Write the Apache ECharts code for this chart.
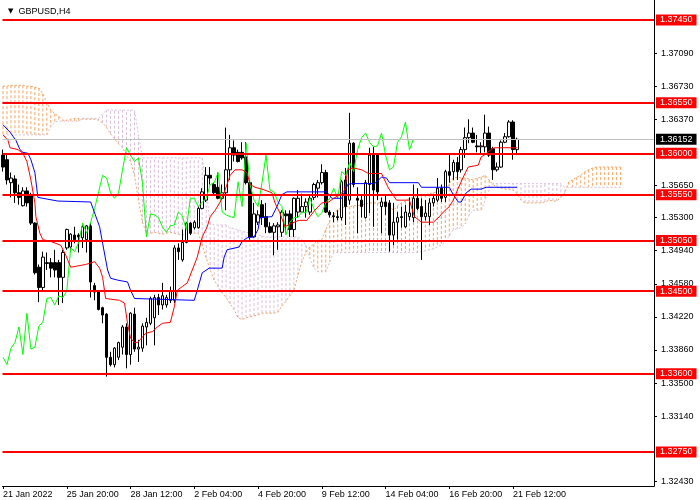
<!DOCTYPE html>
<html><head><meta charset="utf-8">
<script src="https://cdn.jsdelivr.net/npm/echarts@6/dist/echarts.min.js"></script>
<style>html,body{margin:0;padding:0;background:#fff}#c{width:700px;height:500px}</style>
</head><body><div id="c"></div>
<script>
const symbolName = 'GBPUSD,H4';
const xTickLabels = ['21 Jan 2022','25 Jan 20:00','28 Jan 12:00','2 Feb 04:00','4 Feb 20:00','9 Feb 12:00','14 Feb 04:00','16 Feb 20:00','21 Feb 12:00'];
const xTickIndex = [0,16,32,48,64,80,96,112,128];
const yTickValues = [1.32430,1.33140,1.33500,1.33860,1.34220,1.34580,1.34940,1.35300,1.35650,1.36370,1.36730,1.37090];
const levels = [1.37450,1.36550,1.36000,1.35550,1.35050,1.34500,1.33600,1.32750];
const lastPrice = 1.36152;

// H4 candles: [open, close, low, high]
const candles = [
[1.3598,1.3585,1.3580,1.3604],[1.3593,1.3571,1.3566,1.3600],[1.3568,1.3573,1.3552,1.3579],[1.3572,1.3557,1.3546,1.3576],
[1.3557,1.3552,1.3544,1.3566],[1.3543,1.3559,1.3542,1.3563],[1.3559,1.3546,1.3542,1.3563],[1.3555,1.3524,1.3522,1.3557],
[1.3524,1.3470,1.3468,1.3525],[1.3476,1.3454,1.3438,1.3479],[1.3454,1.3487,1.3451,1.3493],[1.3480,1.3481,1.3473,1.3492],
[1.3481,1.3475,1.3465,1.3486],[1.3481,1.3473,1.3465,1.3495],[1.3481,1.3465,1.3435,1.3484],[1.3465,1.3492,1.3437,1.3495],
[1.3497,1.3517,1.3495,1.3518],[1.3498,1.3512,1.3493,1.3513],[1.3511,1.3506,1.3502,1.3520],[1.3511,1.3509,1.3492,1.3513],
[1.3508,1.3520,1.3497,1.3522],[1.3506,1.3521,1.3492,1.3522],[1.3521,1.3460,1.3443,1.3524],[1.3456,1.3449,1.3440,1.3459],
[1.3449,1.3430,1.3429,1.3451],[1.3432,1.3424,1.3415,1.3433],[1.3425,1.3378,1.3357,1.3426],[1.3378,1.3370,1.3368,1.3384],
[1.3370,1.3388,1.3367,1.3389],[1.3378,1.3394,1.3375,1.3395],[1.3389,1.3411,1.3381,1.3413],[1.3411,1.3381,1.3366,1.3415],
[1.3381,1.3426,1.3370,1.3427],[1.3425,1.3387,1.3384,1.3432],[1.3387,1.3389,1.3373,1.3397],[1.3388,1.3412,1.3384,1.3415],
[1.3411,1.3416,1.3391,1.3421],[1.3415,1.3442,1.3413,1.3444],[1.3421,1.3443,1.3391,1.3446],[1.3443,1.3435,1.3424,1.3447],
[1.3435,1.3445,1.3430,1.3459],[1.3435,1.3443,1.3432,1.3446],[1.3440,1.3450,1.3437,1.3455],[1.3440,1.3497,1.3437,1.3500],
[1.3497,1.3493,1.3484,1.3502],[1.3484,1.3503,1.3482,1.3517],[1.3503,1.3524,1.3502,1.3525],[1.3524,1.3513,1.3511,1.3525],
[1.3519,1.3525,1.3517,1.3527],[1.3519,1.3540,1.3518,1.3542],[1.3540,1.3558,1.3539,1.3562],[1.3549,1.3576,1.3547,1.3585],
[1.3576,1.3573,1.3566,1.3585],[1.3566,1.3557,1.3555,1.3568],[1.3563,1.3551,1.3550,1.3579],[1.3551,1.3557,1.3549,1.3566],
[1.3557,1.3582,1.3538,1.3628],[1.3582,1.3606,1.3571,1.3620],[1.3606,1.3598,1.3591,1.3614],[1.3601,1.3591,1.3590,1.3604],
[1.3601,1.3595,1.3593,1.3612],[1.3596,1.3568,1.3566,1.3612],[1.3568,1.3509,1.3506,1.3571],[1.3509,1.3534,1.3508,1.3546],
[1.3525,1.3533,1.3522,1.3538],[1.3544,1.3530,1.3522,1.3549],[1.3531,1.3520,1.3513,1.3546],[1.3520,1.3514,1.3513,1.3525],
[1.3514,1.3521,1.3489,1.3524],[1.3520,1.3522,1.3495,1.3525],[1.3514,1.3536,1.3509,1.3538],[1.3534,1.3532,1.3513,1.3538],
[1.3534,1.3517,1.3509,1.3538],[1.3517,1.3551,1.3509,1.3552],[1.3536,1.3551,1.3530,1.3560],[1.3536,1.3542,1.3535,1.3556],
[1.3542,1.3547,1.3530,1.3551],[1.3536,1.3551,1.3533,1.3555],[1.3552,1.3566,1.3549,1.3568],[1.3562,1.3568,1.3552,1.3571],
[1.3568,1.3579,1.3566,1.3588],[1.3579,1.3536,1.3535,1.3582],[1.3536,1.3533,1.3530,1.3538],[1.3532,1.3531,1.3525,1.3536],
[1.3531,1.3530,1.3527,1.3538],[1.3530,1.3569,1.3527,1.3571],[1.3571,1.3542,1.3522,1.3584],[1.3549,1.3611,1.3544,1.3644],
[1.3611,1.3566,1.3563,1.3612],[1.3551,1.3549,1.3513,1.3563],[1.3549,1.3542,1.3530,1.3555],[1.3530,1.3568,1.3529,1.3571],
[1.3566,1.3598,1.3535,1.3606],[1.3598,1.3560,1.3520,1.3607],[1.3598,1.3558,1.3549,1.3600],[1.3542,1.3547,1.3513,1.3552],
[1.3547,1.3542,1.3533,1.3555],[1.3546,1.3511,1.3493,1.3549],[1.3511,1.3525,1.3500,1.3546],[1.3525,1.3530,1.3506,1.3536],
[1.3531,1.3530,1.3519,1.3542],[1.3520,1.3536,1.3519,1.3544],[1.3531,1.3535,1.3527,1.3552],[1.3530,1.3551,1.3525,1.3566],
[1.3551,1.3540,1.3538,1.3562],[1.3542,1.3531,1.3484,1.3551],[1.3531,1.3535,1.3527,1.3549],[1.3531,1.3546,1.3522,1.3551],
[1.3546,1.3551,1.3542,1.3555],[1.3549,1.3562,1.3547,1.3573],[1.3562,1.3551,1.3547,1.3566],[1.3552,1.3580,1.3547,1.3582],
[1.3580,1.3576,1.3568,1.3598],[1.3580,1.3590,1.3571,1.3593],[1.3590,1.3580,1.3571,1.3596],[1.3582,1.3604,1.3579,1.3607],
[1.3604,1.3617,1.3595,1.3628],[1.3617,1.3622,1.3611,1.3637],[1.3622,1.3612,1.3611,1.3628],[1.3608,1.3607,1.3601,1.3620],
[1.3607,1.3608,1.3600,1.3612],[1.3607,1.3622,1.3601,1.3642],[1.3622,1.3598,1.3596,1.3629],[1.3605,1.3582,1.3571,1.3607],
[1.3582,1.3585,1.3580,1.3590],[1.3585,1.3612,1.3584,1.3614],[1.3612,1.3618,1.3611,1.3622],[1.3618,1.3634,1.3617,1.3636],
[1.3634,1.3604,1.3593,1.3636],[1.3604,1.36152,1.3598,1.3617]
];

// Tenkan-sen (red) vertices: [bar, price]
const tenkan = [[0,1.3620],[1.25,1.3614],[1.75,1.3606],[3.75,1.3604],[5,1.3600],[6,1.3591],[7,1.3571],[8,1.3546],[8.25,1.3531],
[9.25,1.3513],[10,1.3506],[12,1.3504],[14.5,1.3500],[15.75,1.3489],[17,1.3476],[20.75,1.3479],[23,1.3482],[24.25,1.3475],
[25,1.3465],[25.75,1.3442],[29.25,1.3440],[30.5,1.3437],[31.25,1.3415],[32,1.3399],[33,1.3394],[33.75,1.3394],[35,1.3400],
[35.75,1.3404],[37.5,1.3406],[38.75,1.3411],[40,1.3415],[42,1.3416],[43,1.3433],[43.75,1.3451],[45,1.3455],[46.25,1.3459],
[47.5,1.3473],[48.75,1.3487],[50,1.3509],[51.25,1.3520],[52,1.3531],[53.25,1.3538],[54.5,1.3547],[55.5,1.3557],[57,1.3576],
[58.25,1.3582],[60,1.3582],[61.25,1.3579],[62,1.3566],[63.25,1.3563],[65,1.3561],[66.25,1.3559],[67.5,1.3557],[68.25,1.3546],
[69.5,1.3535],[70.75,1.3520],[72.5,1.3524],[74.25,1.3527],[76.25,1.3527],[78.25,1.3538],[80,1.3546],[81.75,1.3547],[83,1.3551],
[84.5,1.3555],[85.75,1.3560],[86.5,1.3582],[88,1.3584],[90,1.3582],[91.75,1.3578],[95,1.3578],[95.75,1.3571],[96.75,1.3562],
[98.75,1.3549],[102,1.3549],[103.25,1.3531],[105,1.3525],[108,1.3525],[109.5,1.3531],[110.5,1.3536],[112,1.3542],[113,1.3549],
[114.25,1.3562],[115.5,1.3574],[116.75,1.3585],[119.25,1.3587],[120,1.3596],[120.75,1.3598],[122.5,1.3604],[123.25,1.3606],[129,1.3606]];

// Kijun-sen (blue) vertices: [bar, price]
const kijun = [[0,1.3631],[1.75,1.3623],[3.25,1.3614],[4.25,1.3604],[5,1.3601],[6.25,1.3600],[7,1.3593],[8,1.3579],[8.75,1.3552],
[9.25,1.3551],[13.75,1.3548],[22,1.3547],[23,1.3535],[24.25,1.3520],[25,1.3502],[26.25,1.3473],[27,1.3464],[28.75,1.3462],
[31.25,1.3460],[32,1.3451],[33,1.3442],[48,1.3440],[48.75,1.3451],[50,1.3470],[51.75,1.3475],[55,1.3475],[55.5,1.3487],
[56.25,1.3495],[59.25,1.3498],[60,1.3504],[61.25,1.3508],[63,1.3509],[64,1.3517],[64.5,1.3530],[67.5,1.3531],[68.75,1.3542],
[70,1.3555],[71.25,1.3558],[81.25,1.3558],[82.5,1.3551],[85,1.3551],[86.5,1.3566],[87.5,1.3567],[93.25,1.3567],[95,1.3574],
[96.25,1.3573],[97,1.3568],[104.25,1.3568],[105,1.3563],[112,1.3563],[113,1.3555],[114.25,1.3547],[115,1.3547],[116.25,1.3557],
[117.5,1.3561],[120,1.3561],[121.25,1.3563],[129,1.3563]];

// Senkou Span A per bar (shifted 26 bars forward)
const spanA = [
1.3673,1.3673,1.3674,1.3674,1.3674,1.3674,1.3673,1.3673,1.3672,1.3671,
1.3665,1.3655,1.3647,1.3643,1.3640,1.3636,1.3636,1.3637,1.3638,1.3638,
1.3637,1.3637,1.3637,1.3637,1.3636,1.3633,1.3628,1.3621,1.3616,1.3610,
1.3606,1.3598,1.3591,1.3576,1.3549,1.3525,1.3513,1.3513,1.3514,1.3513,
1.3512,1.3513,1.3514,1.3513,1.3512,1.3511,1.3512,1.3513,1.3513,1.3513,
1.3500,1.3486,1.3473,1.3462,1.3455,1.3448,1.3443,1.3436,1.3430,1.3421,
1.3419,1.3421,1.3422,1.3423,1.3424,1.3426,1.3426,1.3426,1.3426,1.3427,
1.3434,1.3439,1.3445,1.3451,1.3467,1.3482,1.3492,1.3498,1.3501,1.3505,
1.3506,1.3517,1.3527,1.3533,1.3539,1.3540,1.3542,1.3542,1.3543,1.3543,
1.3544,1.3545,1.3546,1.3546,1.3546,1.3546,1.3546,1.3542,1.3538,1.3543,
1.3546,1.3548,1.3551,1.3552,1.3554,1.3554,1.3555,1.3556,1.3557,1.3558,
1.3559,1.3560,1.3567,1.3573,1.3574,1.3573,1.3573,1.3572,1.3571,1.3573,
1.3574,1.3576,1.3571,1.3566,1.3563,1.3562,1.3561,1.3561,1.3560,1.3556,
1.3549,1.3546,1.3546,1.3546,1.3546,1.3546,1.3547,1.3549,1.3548,1.3548,
1.3552,1.3557,1.3569,1.3571,1.3574,1.3576,1.3580,1.3582,1.3584,1.3585,
1.3585,1.3585,1.3585,1.3585,1.3585,1.3585];

// Senkou Span B per bar (shifted 26 bars forward)
const spanB = [
1.3620,1.3620,1.3620,1.3620,1.3620,1.3620,1.3620,1.3620,1.3620,1.3620,
1.3620,1.3620,1.3629,1.3634,1.3635,1.3635,1.3635,1.3635,1.3635,1.3635,
1.3638,1.3638,1.3638,1.3638,1.3638,1.3643,1.3647,1.3647,1.3647,1.3647,
1.3647,1.3647,1.3647,1.3647,1.3620,1.3595,1.3595,1.3595,1.3595,1.3595,
1.3595,1.3595,1.3595,1.3595,1.3595,1.3595,1.3595,1.3595,1.3595,1.3595,
1.3595,1.3560,1.3524,1.3522,1.3522,1.3522,1.3522,1.3519,1.3518,1.3517,
1.3515,1.3514,1.3513,1.3512,1.3511,1.3510,1.3509,1.3509,1.3509,1.3509,
1.3509,1.3509,1.3509,1.3509,1.3509,1.3506,1.3500,1.3486,1.3475,1.3471,
1.3471,1.3471,1.3482,1.3492,1.3492,1.3492,1.3492,1.3492,1.3492,1.3492,
1.3492,1.3492,1.3492,1.3492,1.3492,1.3492,1.3492,1.3492,1.3492,1.3492,
1.3492,1.3492,1.3492,1.3492,1.3492,1.3493,1.3494,1.3495,1.3496,1.3498,
1.3500,1.3504,1.3510,1.3517,1.3518,1.3519,1.3523,1.3533,1.3538,1.3538,
1.3538,1.3549,1.3560,1.3567,1.3567,1.3567,1.3567,1.3567,1.3567,1.3567,
1.3567,1.3567,1.3567,1.3567,1.3567,1.3567,1.3567,1.3567,1.3567,1.3567,
1.3567,1.3563,1.3563,1.3563,1.3563,1.3563,1.3563,1.3563,1.3563,1.3563,
1.3563,1.3563,1.3563,1.3563,1.3563,1.3563];

const CHIKOU_SHIFT = 26;
const FONT = 'Liberation Sans, Arial, sans-serif';
const C = {tenkan:'#ff0000', kijun:'#0000ff', chikou:'#00ff00', spanA:'#f4a460', spanB:'#d8bfd8', level:'#ff0000'};

const chart = echarts.init(document.getElementById('c'), null, {renderer:'canvas'});
const option = {
  animation:false,
  backgroundColor:'#ffffff',
  textStyle:{fontFamily:FONT, fontSize:9, color:'#000'},
  title:{
    text:'{t|▼}  ' + symbolName, left:3, top:2,
    textStyle:{fontSize:9, fontWeight:'normal', color:'#000', fontFamily:FONT,
      rich:{t:{fontSize:7, color:'#000', fontFamily:'DejaVu Sans'}}}
  },
  grid:{left:0, right:46, top:0, bottom:14},
  xAxis:{
    type:'value', min:-0.125, max:163.375,
    axisLine:{show:true, onZero:false, lineStyle:{color:'#000', width:1}},
    axisTick:{show:true, length:3, customValues:xTickIndex, lineStyle:{color:'#000'}},
    axisLabel:{customValues:xTickIndex, align:'left', margin:4, fontSize:9, color:'#000', fontFamily:FONT,
      formatter:v => { const k = xTickIndex.indexOf(v); return k >= 0 ? xTickLabels[k] : ''; }},
    splitLine:{show:false}
  },
  yAxis:{
    type:'value', position:'right', min:1.323798, max:1.376676,
    axisLine:{show:true, onZero:false, lineStyle:{color:'#000', width:1}},
    axisTick:{show:true, length:3, customValues:yTickValues, lineStyle:{color:'#000'}},
    axisLabel:{customValues:yTickValues, margin:7, fontSize:9, color:'#000', fontFamily:FONT,
      formatter:v => v.toFixed(5)},
    splitLine:{show:false}
  },
  series:[
    {
      type:'custom', name:'cloud', z:1, silent:true, clip:true,
      data: spanA.map((a,i)=>[i, a, spanB[i]]),
      encode:{x:0, y:[1,2]},
      renderItem:(params, api) => {
        const i = api.value(0), a = api.value(1), b = api.value(2);
        const p1 = api.coord([i, a]), p2 = api.coord([i, b]);
        return {type:'line', shape:{x1:p1[0], y1:p1[1], x2:p2[0], y2:p2[1]},
          style:{stroke: a >= b ? C.spanA : C.spanB, lineWidth:1, lineDash:[3,2]}};
      }
    },
    {type:'line', name:'Senkou A', z:1, silent:true, showSymbol:false, data: spanA.map((v,i)=>[i,v]),
      lineStyle:{color:C.spanA, width:1, type:[2,2]}},
    {type:'line', name:'Senkou B', z:1, silent:true, showSymbol:false, data: spanB.map((v,i)=>[i,v]),
      lineStyle:{color:C.spanB, width:1, type:[2,2]}},
    {
      type:'candlestick', name:symbolName, z:2, silent:true, barWidth:3,
      data: candles.map((d,i)=>[i, d[0], d[1], d[2], d[3]]),
      itemStyle:{color:'#ffffff', color0:'#000000', borderColor:'#000000', borderColor0:'#000000', borderWidth:1}
    },
    {type:'line', name:'Chikou', z:3, silent:true, showSymbol:false,
      data: candles.slice(CHIKOU_SHIFT).map((d,k)=>[k, d[1]]),
      lineStyle:{color:C.chikou, width:1}},
    {type:'line', name:'Kijun', z:3, silent:true, showSymbol:false, data:kijun, lineStyle:{color:C.kijun, width:1}},
    {type:'line', name:'Tenkan', z:3, silent:true, showSymbol:false, data:tenkan, lineStyle:{color:C.tenkan, width:1}},
    {
      type:'line', name:'bid', z:4, silent:true, data:[],
      markLine:{silent:true, precision:5, symbol:['none','none'], animation:false,
        lineStyle:{color:'#c0c0c0', width:1, type:'solid'},
        label:{show:true, position:'end', distance:2, formatter:p=>Number(p.value).toFixed(5), color:'#fff',
          backgroundColor:'#000', padding:[1,4,1,4], fontSize:9, fontFamily:FONT},
        emphasis:{disabled:true},
        data:[{yAxis:lastPrice}]}
    },
    {
      type:'line', name:'levels', z:5, silent:true, data:[],
      markLine:{silent:true, precision:5, symbol:['none','none'], animation:false,
        lineStyle:{color:C.level, width:2, type:'solid'},
        label:{show:true, position:'end', distance:2, formatter:p=>Number(p.value).toFixed(5), color:'#fff',
          backgroundColor:C.level, padding:[1,4,1,4], fontSize:9, fontFamily:FONT},
        emphasis:{disabled:true},
        data: levels.map(v=>({yAxis:v}))}
    }
  ]
};
chart.setOption(option);
</script>
</body></html>
